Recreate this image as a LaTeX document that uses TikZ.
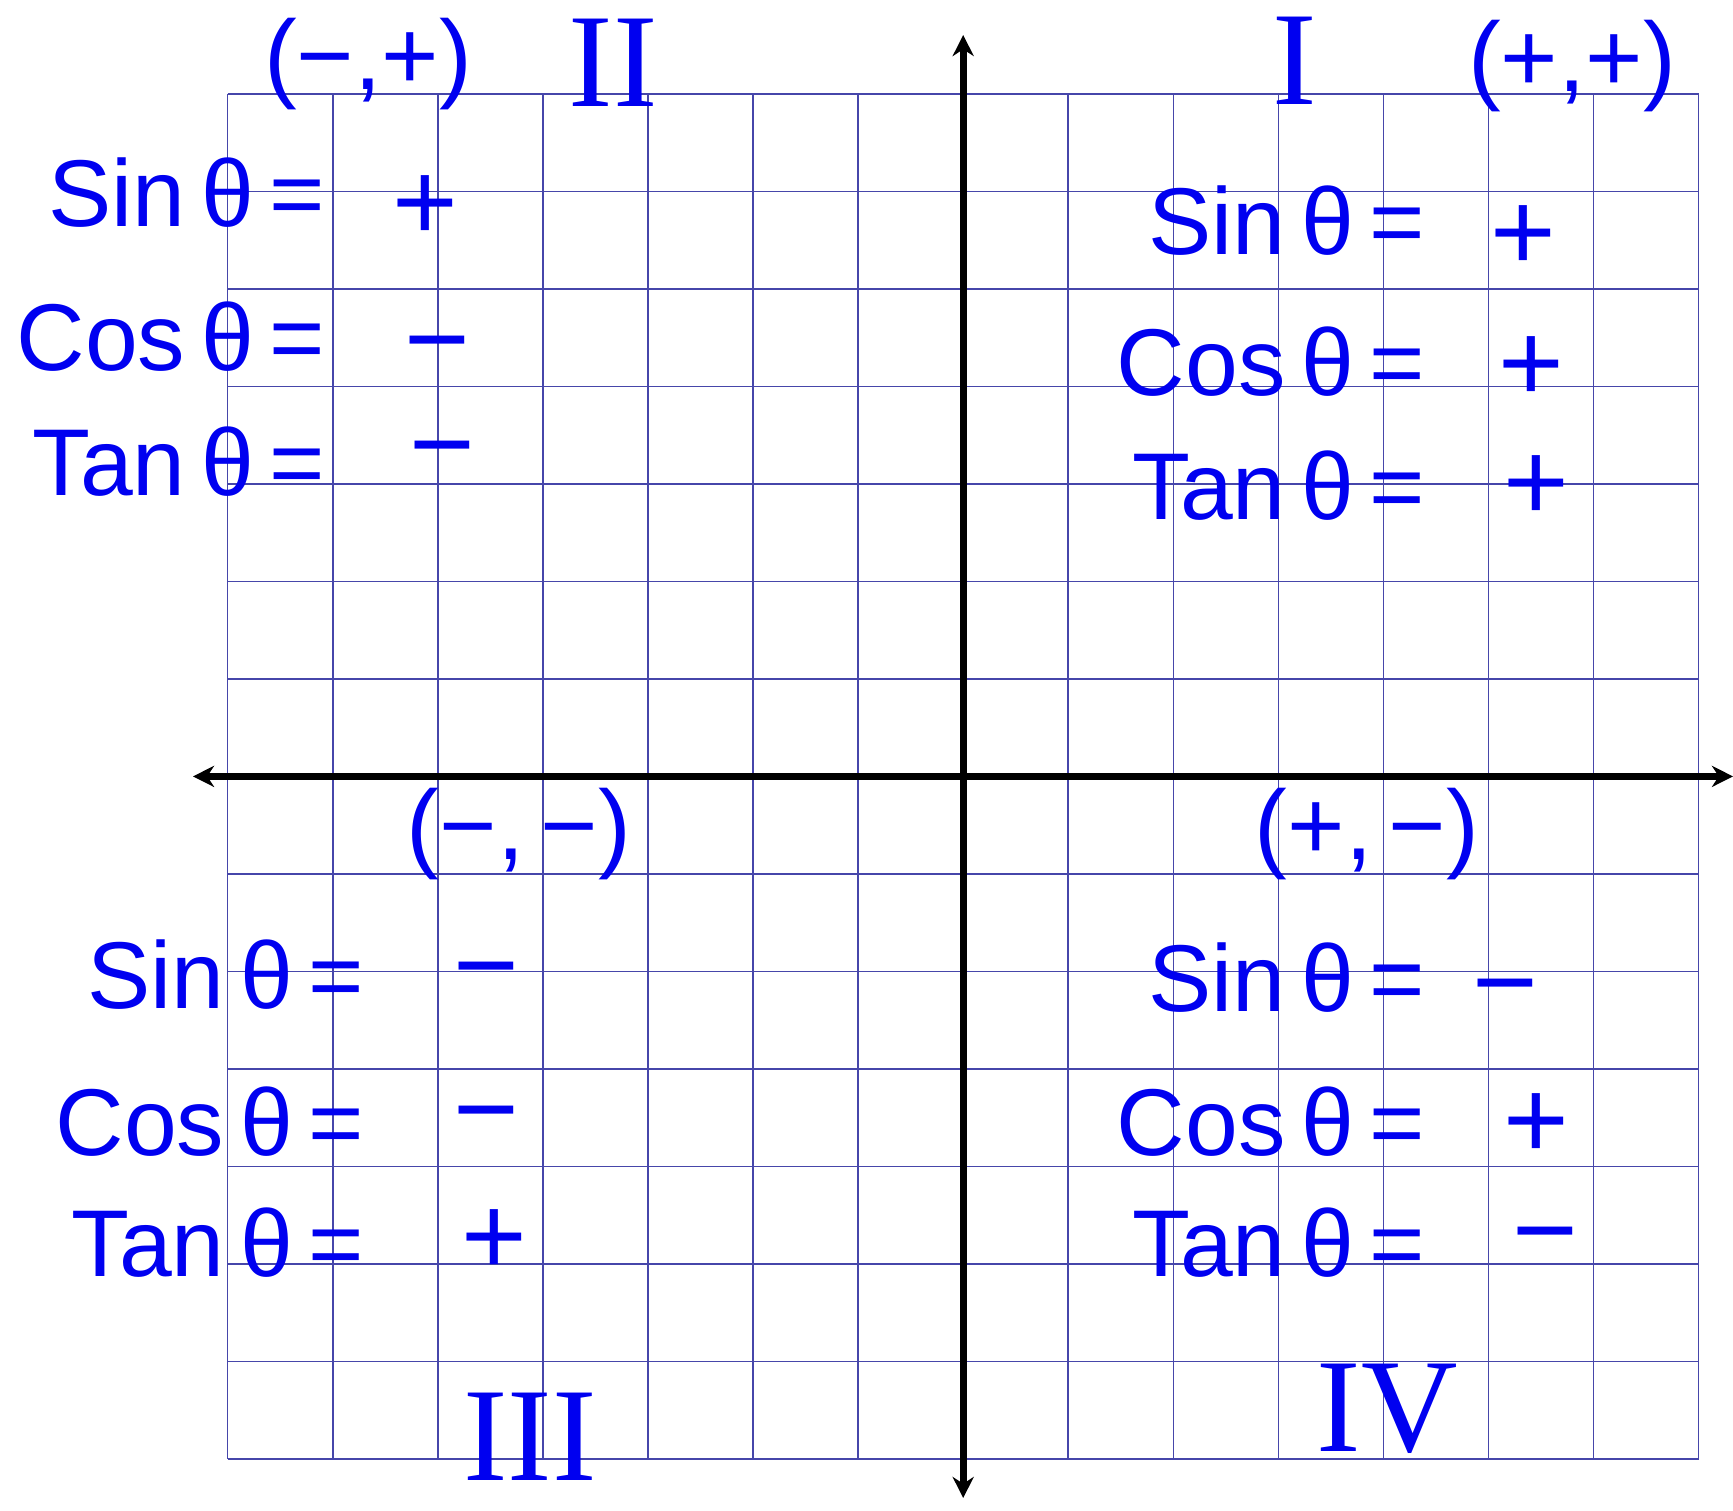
\documentclass[tikz,border=0pt]{standalone}
\usepackage{fontspec}
\setmainfont{Liberation Sans}
\newfontfamily\romanfont{Liberation Serif}
\usetikzlibrary{arrows.meta}
\definecolor{penblue}{RGB}{0,0,240}
\definecolor{gridblue}{RGB}{70,70,170}

\begin{document}
\begin{tikzpicture}[
  x=0.1mm, y=-0.1mm,
  >={Stealth[length=6pt,width=6pt]},
  gridline/.style={draw=gridblue, line width=0.45pt},
  axis/.style={<->, line width=2pt, black},
  ink/.style={text=penblue, inner sep=0pt},
  trig/.style={ink, anchor=east, font=\fontsize{27}{32}\selectfont},
  sign/.style={ink, font=\fontsize{32}{36}\selectfont, text height=20.5pt, text depth=0pt},
  pair/.style={ink, font=\fontsize{28}{32}\selectfont},
  quadnum/.style={ink, font=\fontsize{38}{40}\selectfont\romanfont}
]

\useasboundingbox (0,0) rectangle (1733,1511);

\def\gx{227.7}
\def\gy{93.9}
\def\cw{105.07}
\def\ch{97.5}

% Grid paper
\foreach \i in {0,...,14} {
  \draw[gridline] ({\gx+\i*\cw},\gy) -- ({\gx+\i*\cw},{\gy+14*\ch});
  \draw[gridline] (\gx,{\gy+\i*\ch}) -- ({\gx+14*\cw},{\gy+\i*\ch});
}

% Axes
\coordinate (xl) at (193,{\gy+7*\ch});
\coordinate (xr) at (1733,{\gy+7*\ch});
\coordinate (yt) at ({\gx+7*\cw},35);
\coordinate (yb) at ({\gx+7*\cw},1498);
\draw[axis] (xl) -- (xr);
\draw[axis] (yt) -- (yb);

% Quadrant II
\node[pair] (q2pair) at (368,64) {(−,+)};
\node[quadnum] (q2num) at (613,63) {II};
\node[trig] (q2sin) at (326,193) {Sin\,θ\,=};
\node[sign] (q2sinv) at (425,204) {+};
\node[trig] (q2cos) at (326,337) {Cos\,θ\,=};
\node[sign] (q2cosv) at (437,341) {−};
\node[trig] (q2tan) at (326,462) {Tan\,θ\,=};
\node[sign] (q2tanv) at (442,446) {−};

% Quadrant I
\node[quadnum] (q1num) at (1295,61) {I};
\node[pair] (q1pair) at (1572,66) {(+,+)};
\node[trig] (q1sin) at (1426,221) {Sin\,θ\,=};
\node[sign] (q1sinv) at (1523,234) {+};
\node[trig] (q1cos) at (1426,362) {Cos\,θ\,=};
\node[sign] (q1cosv) at (1531,365) {+};
\node[trig] (q1tan) at (1426,486) {Tan\,θ\,=};
\node[sign] (q1tanv) at (1536,484) {+};

% Quadrant III
\node[pair] (q3pair) at (519,834) {(−,\,−)};
\node[trig] (q3sin) at (365,975) {Sin\,θ\,=};
\node[sign] (q3sinv) at (486,967) {−};
\node[trig] (q3cos) at (365,1122) {Cos\,θ\,=};
\node[sign] (q3cosv) at (486,1111) {−};
\node[trig] (q3tan) at (365,1243) {Tan\,θ\,=};
\node[sign] (q3tanv) at (494,1238) {+};
\node[quadnum] (q3num) at (530,1437) {III};

% Quadrant IV
\node[pair] (q4pair) at (1367,834) {(+,\,−)};
\node[trig] (q4sin) at (1426,978) {Sin\,θ\,=};
\node[sign] (q4sinv) at (1505,984) {−};
\node[trig] (q4cos) at (1426,1122) {Cos\,θ\,=};
\node[sign] (q4cosv) at (1536,1122) {+};
\node[trig] (q4tan) at (1426,1243) {Tan\,θ\,=};
\node[sign] (q4tanv) at (1545,1232) {−};
\node[quadnum] (q4num) at (1387,1409) {IV};

\end{tikzpicture}
\end{document}
